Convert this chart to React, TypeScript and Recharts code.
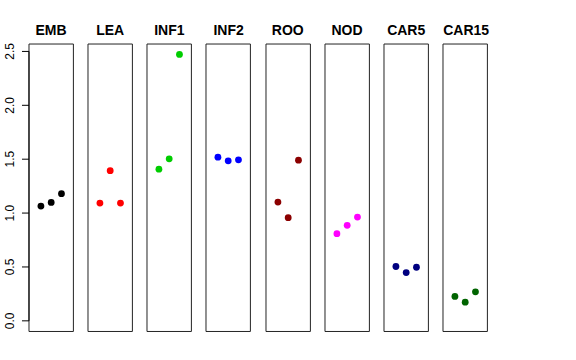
import React from 'react';
import { ScatterChart, Scatter, XAxis, YAxis, ReferenceArea, ReferenceLine } from 'recharts';

const groups = ['EMB', 'LEA', 'INF1', 'INF2', 'ROO', 'NOD', 'CAR5', 'CAR15'];
const replicates = [1, 2, 3];
const embValues = [1.065, 1.099, 1.18];
const leaValues = [1.093, 1.393, 1.093];
const inf1Values = [1.407, 1.503, 2.472];
const inf2Values = [1.519, 1.485, 1.494];
const rooValues = [1.102, 0.957, 1.491];
const nodValues = [0.809, 0.886, 0.963];
const car5Values = [0.504, 0.448, 0.497];
const car15Values = [0.226, 0.173, 0.269];
const groupColors = ['#000000', '#FF0000', '#00CD00', '#0000FF', '#8B0000', '#FF00FF', '#000080', '#006400'];
const yTicks = [0, 0.5, 1, 1.5, 2, 2.5];

const allValues = [embValues, leaValues, inf1Values, inf2Values, rooValues, nodValues, car5Values, car15Values];

// R style limits: xlim c(0,4), ylim c(0, max) plus 4% padding
const xDomain: [number, number] = [-0.16, 4.16];
const yMax = 2.47;
const yDomain: [number, number] = [-yMax * 0.04, yMax * 1.04];

const font = '"Liberation Sans", Arial, Helvetica, sans-serif';
const panelTop = 43.5;
const panelHeight = 287.5;
const panelWidth = 44.4;
const firstLeft = 28.8;
const panelStep = 59.2;
const axisWidth = 29;
const pad = 3; // room so the panel border is not clipped

const AxisTick = (props: any) => {
  const { y, payload } = props;
  return (
    <text
      x={10 + pad}
      y={y}
      transform={`rotate(-90, ${10 + pad}, ${y})`}
      textAnchor="middle"
      dominantBaseline="central"
      fontSize={12}
      fontFamily={font}
      fill="#000"
    >
      {payload.value.toFixed(1)}
    </text>
  );
};

const Panel: React.FC<{ idx: number }> = ({ idx }) => {
  const withAxis = idx === 0;
  const data = replicates.map((r, i) => ({ x: r, y: allValues[idx][i] }));
  const color = groupColors[idx];
  const left = firstLeft + idx * panelStep - (withAxis ? axisWidth : 0) - pad;
  return (
    <div style={{ position: 'absolute', left, top: panelTop - pad }}>
      <ScatterChart
        width={panelWidth + (withAxis ? axisWidth : 0) + pad * 2}
        height={panelHeight + pad * 2}
        margin={{ top: pad, right: pad, bottom: pad, left: pad }}
      >
        <XAxis type="number" dataKey="x" domain={xDomain} hide allowDataOverflow />
        <YAxis
          type="number"
          dataKey="y"
          domain={yDomain}
          ticks={yTicks}
          hide={!withAxis}
          width={axisWidth}
          axisLine={false}
          tickLine={{ stroke: '#000' }}
          tickSize={7}
          tick={<AxisTick />}
          allowDataOverflow
        />
        <ReferenceArea
          x1={xDomain[0]}
          x2={xDomain[1]}
          y1={yDomain[0]}
          y2={yDomain[1]}
          fill="none"
          stroke="#222"
          strokeWidth={1}
          fillOpacity={0}
          ifOverflow="visible"
        />
        {withAxis && (
          <ReferenceLine
            segment={[{ x: xDomain[0], y: 0 }, { x: xDomain[0], y: 2.5 }]}
            stroke="#000"
            ifOverflow="visible"
          />
        )}
        <Scatter
          data={data}
          isAnimationActive={false}
          shape={(p: any) => <circle cx={p.cx} cy={p.cy} r={3.4} fill={color} />}
        />
      </ScatterChart>
      <div
        style={{
          position: 'absolute',
          top: pad - 22,
          left: (withAxis ? axisWidth : 0) + pad,
          width: panelWidth,
          textAlign: 'center',
          fontFamily: font,
          fontWeight: 'bold',
          fontSize: 14,
          lineHeight: '16px',
          color: '#000',
        }}
      >
        {groups[idx]}
      </div>
    </div>
  );
};

export default function App() {
  return (
    <div style={{ position: 'fixed', left: 0, top: 0, width: 576, height: 360, background: '#fff' }}>
      {groups.map((g, i) => (
        <Panel key={g} idx={i} />
      ))}
    </div>
  );
}
